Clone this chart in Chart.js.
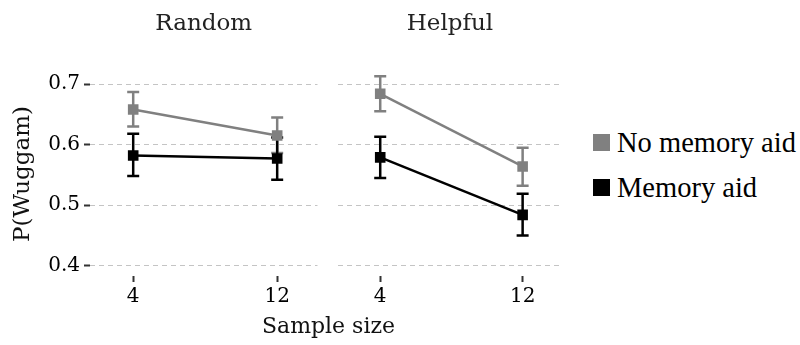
<!DOCTYPE html>
<html>
<head>
<meta charset="utf-8">
<script src="https://cdn.jsdelivr.net/npm/chart.js@4.4.0/dist/chart.umd.min.js"></script>
<style>
    body { margin: 0; background: #ffffff; }
    #wrap { position: relative; width: 800px; height: 345px; overflow: hidden; }
    canvas { position: absolute; top: 0; }
    #chartRandom { left: 0; }
    #chartHelpful { left: 330px; }
    #xTitle {
        position: absolute; left: 0; width: 657px; top: 313px;
        text-align: center; font-family: "DejaVu Serif", serif; font-size: 22px; line-height: 26px; color: #111;
    }
    #legend {
        position: absolute; left: 593px; top: 120px;
        font-family: "Liberation Serif", "Times New Roman", Times, serif; font-size: 28.5px; color: #000;
    }
    .item { height: 45px; display: flex; align-items: center; white-space: nowrap; }
    .box { width: 17px; height: 17px; margin-right: 7px; flex: none; }
</style>
</head>
<body>
<div id="wrap">
    <canvas id="chartRandom" width="325" height="345"></canvas>
    <canvas id="chartHelpful" width="240" height="345"></canvas>
    <div id="xTitle">Sample size</div>
    <div id="legend"></div>
</div>
<script>
// Facets, x categories and series
const facets = ['Random', 'Helpful'];
const sampleSizes = ['4', '12'];
const seriesNames = ['No memory aid', 'Memory aid'];
const seriesColors = ['#808080', '#000000'];
const yTicks = [0.4, 0.5, 0.6, 0.7];

// Random condition: mean, lower and upper error bar
const randomNoAid = [0.658, 0.615];
const randomNoAidLow = [0.630, 0.586];
const randomNoAidHigh = [0.687, 0.645];
const randomAid = [0.582, 0.577];
const randomAidLow = [0.548, 0.542];
const randomAidHigh = [0.618, 0.612];

// Helpful condition
const helpfulNoAid = [0.684, 0.564];
const helpfulNoAidLow = [0.655, 0.532];
const helpfulNoAidHigh = [0.713, 0.595];
const helpfulAid = [0.579, 0.484];
const helpfulAidLow = [0.545, 0.450];
const helpfulAidHigh = [0.613, 0.519];

const serif = 'DejaVu Serif';

// draws the error bars under the points
const errorBars = {
    id: 'errorBars',
    beforeDatasetsDraw(chart) {
        const { ctx, scales: { x, y } } = chart;
        chart.data.datasets.forEach(ds => {
            ctx.save();
            ctx.strokeStyle = ds.borderColor;
            ctx.lineWidth = 2.5;
            ds.data.forEach((p, i) => {
                const px = x.getPixelForValue(p.x);
                const top = y.getPixelForValue(ds.errHigh[i]);
                const bottom = y.getPixelForValue(ds.errLow[i]);
                ctx.beginPath();
                ctx.moveTo(px, top);
                ctx.lineTo(px, bottom);
                ctx.moveTo(px - 6, top);
                ctx.lineTo(px + 6, top);
                ctx.moveTo(px - 6, bottom);
                ctx.lineTo(px + 6, bottom);
                ctx.stroke();
            });
            ctx.restore();
        });
    }
};

function toPoints(values) {
    return values.map((v, i) => ({ x: i, y: v }));
}

function makeDataset(idx, values, low, high) {
    return {
        label: seriesNames[idx],
        data: toPoints(values),
        errLow: low,
        errHigh: high,
        borderColor: seriesColors[idx],
        backgroundColor: seriesColors[idx],
        borderWidth: 2.5,
        pointStyle: 'rect',
        pointRadius: 7.5,
        pointBorderWidth: 0,
        pointHoverRadius: 7.5
    };
}

function makeChart(canvasId, title, datasets, showYAxis) {
    const ctx = document.getElementById(canvasId);
    return new Chart(ctx, {
        type: 'line',
        data: { datasets: datasets },
        options: {
            responsive: false,
            animation: false,
            layout: {
                padding: { left: showYAxis ? 0 : 6, right: showYAxis ? 7 : 5, top: 0, bottom: 0 }
            },
            plugins: {
                legend: { display: false },
                tooltip: { enabled: false },
                title: {
                    display: true,
                    text: title,
                    fullSize: false,
                    color: '#222',
                    font: { family: serif, size: 23, weight: 'normal' },
                    padding: { top: 10, bottom: 34.4 }
                }
            },
            scales: {
                x: {
                    type: 'linear',
                    min: -0.3,
                    max: 1.28,
                    afterBuildTicks: scale => { scale.ticks = sampleSizes.map((s, i) => ({ value: i })); },
                    afterFit: scale => { scale.height = 69; },
                    ticks: {
                        callback: v => sampleSizes[v],
                        color: '#000',
                        padding: 3,
                        font: { family: serif, size: 20 }
                    },
                    grid: {
                        drawOnChartArea: false,
                        tickLength: 6,
                        tickColor: '#333',
                        tickWidth: 2
                    },
                    border: { display: false }
                },
                y: {
                    min: 0.383,
                    max: 0.72,
                    afterBuildTicks: scale => { scale.ticks = yTicks.map(v => ({ value: v })); },
                    afterFit: scale => { scale.width = showYAxis ? 90 : 0; },
                    ticks: {
                        display: showYAxis,
                        color: '#000',
                        padding: 4,
                        font: { family: serif, size: 20 },
                        callback: v => v.toFixed(1)
                    },
                    grid: {
                        color: '#c4c4c4',
                        lineWidth: 1,
                        drawTicks: showYAxis,
                        tickLength: 6,
                        tickColor: '#333',
                        tickWidth: 2,
                        tickBorderDash: []
                    },
                    border: { display: false, dash: [5, 4] },
                    title: {
                        display: showYAxis,
                        text: 'P(Wuggam)',
                        color: '#111',
                        font: { family: serif, size: 23 },
                        padding: { top: 9, bottom: 0 }
                    }
                }
            }
        },
        plugins: [errorBars]
    });
}

makeChart('chartRandom', facets[0], [
    makeDataset(0, randomNoAid, randomNoAidLow, randomNoAidHigh),
    makeDataset(1, randomAid, randomAidLow, randomAidHigh)
], true);

makeChart('chartHelpful', facets[1], [
    makeDataset(0, helpfulNoAid, helpfulNoAidLow, helpfulNoAidHigh),
    makeDataset(1, helpfulAid, helpfulAidLow, helpfulAidHigh)
], false);

// legend built from the series names and colours
const legend = document.getElementById('legend');
seriesNames.forEach((name, i) => {
    const item = document.createElement('div');
    item.className = 'item';
    const box = document.createElement('span');
    box.className = 'box';
    box.style.background = seriesColors[i];
    item.appendChild(box);
    item.appendChild(document.createTextNode(name));
    legend.appendChild(item);
});
</script>
</body>
</html>
